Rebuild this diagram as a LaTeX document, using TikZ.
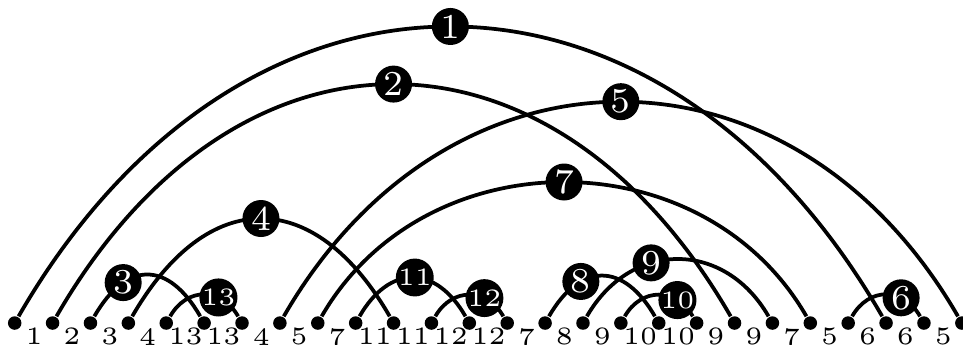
\documentclass[tikz,border=0pt]{standalone}
\usepackage{tikz}
\begin{document}
\begin{tikzpicture}[
  x=7.576pt, y=7.576pt,
  dot/.style={circle,fill=black,inner sep=0pt,minimum size=2.7pt},
  ptlab/.style={font=\tiny,inner sep=0pt,anchor=north},
  num/.style={circle,fill=black,text=white,inner sep=0pt,minimum size=7.4pt,font=\scriptsize},
  numsm/.style={num,font=\tiny},
  arc/.style={out=60,in=120}
]
\useasboundingbox (-0.388,-0.554) rectangle (25.03,8.527);
% points on the baseline
\foreach \lab [count=\i from 0] in {1,2,3,4,13,13,4,5,7,11,11,12,12,7,8,9,10,10,9,9,7,5,6,6,5}{
  \node[dot] (d\i) at (\i,0) {};
  \node[ptlab] (l\i) at (\i+0.51,-0.11) {\lab};
}
\node[dot] (d25) at (25,0) {};
% arcs
\draw[line width=0.75pt] (d0) to[arc,looseness=1.325] coordinate[pos=.5] (c1) (d23);
\draw[line width=0.75pt] (d1) to[arc,looseness=1.36] coordinate[pos=.5] (c2) (d19);
\draw[line width=0.75pt] (d2) to[arc,looseness=1.56] coordinate[pos=.28] (c3) (d5);
\draw[line width=0.75pt] (d3) to[arc,looseness=1.50] coordinate[pos=.5] (c4) (d10);
\draw[line width=0.75pt] (d7) to[arc,looseness=1.257] coordinate[pos=.5] (c5) (d25);
\draw[line width=0.75pt] (d22) to[arc,looseness=1.28] coordinate[pos=.7] (c6) (d24);
\draw[line width=0.75pt] (d8) to[arc,looseness=1.094] coordinate[pos=.5] (c7) (d21);
\draw[line width=0.75pt] (d14) to[arc,looseness=1.52] coordinate[pos=.31] (c8) (d17);
\draw[line width=0.75pt] (d15) to[arc,looseness=1.246] coordinate[pos=.37] (c9) (d20);
\draw[line width=0.75pt] (d16) to[arc,looseness=1.26] coordinate[pos=.75] (c10) (d18);
\draw[line width=0.75pt] (d9) to[arc,looseness=1.45] coordinate[pos=.52] (c11) (d12);
\draw[line width=0.75pt] (d11) to[arc,looseness=1.26] coordinate[pos=.7] (c12) (d13);
\draw[line width=0.75pt] (d4) to[arc,looseness=1.28] coordinate[pos=.69] (c13) (d6);
% arc numbers
\node[num] (n1) at (c1) {1};
\node[num] (n2) at (c2) {2};
\node[num] (n3) at (c3) {3};
\node[num] (n4) at (c4) {4};
\node[num] (n5) at (c5) {5};
\node[num] (n6) at (c6) {6};
\node[num] (n7) at (c7) {7};
\node[num] (n8) at (c8) {8};
\node[num] (n9) at (c9) {9};
\node[numsm] (n10) at (c10) {10};
\node[numsm] (n11) at (c11) {11};
\node[numsm] (n12) at (c12) {12};
\node[numsm] (n13) at (c13) {13};
\end{tikzpicture}
\end{document}
